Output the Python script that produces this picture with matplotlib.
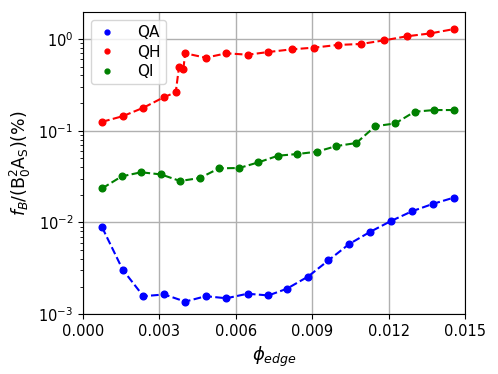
import matplotlib
matplotlib.use("Agg")
import matplotlib.pyplot as plt
from matplotlib.lines import Line2D

qa_x = [0.00075, 0.00156, 0.00237, 0.00319, 0.00401, 0.00482, 0.00563, 0.00646,
        0.00728, 0.00800, 0.00883, 0.00964, 0.01045, 0.01126, 0.01209, 0.01291,
        0.01373, 0.01455]
qa_y = [0.00884, 0.00305, 0.00157, 0.00164, 0.00137, 0.00157, 0.00149, 0.00167,
        0.00160, 0.00189, 0.00256, 0.00386, 0.00581, 0.00785, 0.01035, 0.0132,
        0.0159, 0.0186]

qh_x = [0.00075, 0.00156, 0.00237, 0.00319, 0.00364, 0.00377, 0.00394, 0.00401,
        0.00482, 0.00563, 0.00647, 0.00728, 0.00819, 0.00908, 0.01000, 0.01092,
        0.01183, 0.01272, 0.01364, 0.01455]
qh_y = [0.125, 0.144, 0.178, 0.233, 0.262, 0.495, 0.467, 0.698,
        0.625, 0.698, 0.674, 0.721, 0.771, 0.805, 0.861, 0.882,
        0.967, 1.07, 1.15, 1.28]

qi_x = [0.00075, 0.00152, 0.00228, 0.00306, 0.00381, 0.00459, 0.00534, 0.00613,
        0.00689, 0.00766, 0.00842, 0.00918, 0.00995, 0.01073, 0.01148, 0.01226,
        0.01302, 0.01379, 0.01455]
qi_y = [0.0235, 0.0318, 0.0352, 0.0334, 0.0283, 0.0305, 0.0389, 0.0392,
        0.0452, 0.0534, 0.0557, 0.0590, 0.0680, 0.0734, 0.112, 0.120,
        0.161, 0.168, 0.168]

x_ticks = [0.000, 0.003, 0.006, 0.009, 0.012, 0.015]
x_ticklabels = ["0.000", "0.003", "0.006", "0.009", "0.012", "0.015"]

fig = plt.figure(figsize=(4.98, 3.74), dpi=100)
ax = fig.add_axes([0.1667, 0.160, 0.767, 0.808])

ax.plot(qa_x, qa_y, 'o--', color='blue', ms=4.8, lw=1.5)
ax.plot(qh_x, qh_y, 'o--', color='red', ms=4.8, lw=1.5)
ax.plot(qi_x, qi_y, 'o--', color='green', ms=4.8, lw=1.5)

ax.set_yscale('log')
ax.set_xlim(0, 0.015)
ax.set_ylim(1e-3, 1.97)
ax.set_xticks(x_ticks)
ax.set_xticklabels(x_ticklabels)
ax.tick_params(labelsize=10.5)
ax.grid(True, which='major', color='#b0b0b0', lw=1)

ax.set_xlabel(r'$\phi_{edge}$', fontsize=13)
ax.set_ylabel(r'$f_B/(\mathrm{B}_0^2\mathrm{A}_\mathrm{S})(\%)$', fontsize=12.5)

handles = [Line2D([], [], marker='o', ls='none', color=c, ms=3.5) for c in ['blue', 'red', 'green']]
ax.legend(handles, ['QA', 'QH', 'QI'], loc='upper left', fontsize=11,
          handlelength=1.5, handletextpad=1.2, borderpad=0.35, labelspacing=0.3,
          borderaxespad=0.5)

fig.savefig('out.png', dpi=100)
